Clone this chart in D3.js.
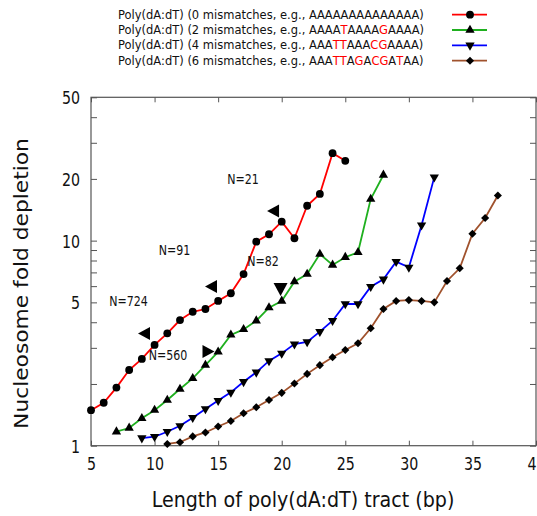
<!DOCTYPE html>
<html>
<head>
<meta charset="utf-8">
<script src="https://cdnjs.cloudflare.com/ajax/libs/d3/7.8.5/d3.min.js"></script>
<style>
  body { margin: 0; background: #fff; }
  svg { display: block; }
  text { font-family: "DejaVu Sans", Verdana, sans-serif; fill: #111; }
</style>
</head>
<body>
<div id="chart"></div>
<script>
// ---- data ----
var len0 = [5,6,7,8,9,10,11,12,13,14,15,16,17,18,19,20,21,22,23,24,25]
var fold0 = [1.49,1.62,1.92,2.34,2.65,3.10,3.53,4.10,4.50,4.64,5.08,5.54,6.87,9.88,10.74,12.37,10.27,14.8,16.9,26.7,24.5]

var len2 = [7,8,9,10,11,12,13,14,15,16,17,18,19,20,21,22,23,24,25,26,27,28]
var fold2 = [1.17,1.22,1.36,1.49,1.67,1.89,2.13,2.47,2.87,3.47,3.69,4.07,4.71,5.08,6.31,6.87,8.60,7.61,8.30,8.77,15.96,20.9]

var len4 = [9,10,11,12,13,14,15,16,17,18,19,20,21,22,23,24,25,26,27,28,29,30,31,32]
var fold4 = [1.09,1.106,1.17,1.25,1.37,1.51,1.66,1.82,2.05,2.28,2.59,2.82,3.13,3.21,3.60,4.07,4.91,4.91,5.96,6.48,7.89,7.41,11.9,20.4]

var len6 = [11,12,13,14,15,16,17,18,19,20,21,22,23,24,25,26,27,28,29,30,31,32,33,34,35,36,37]
var fold6 = [1.02,1.04,1.11,1.16,1.24,1.32,1.44,1.54,1.67,1.81,2.01,2.24,2.47,2.70,2.93,3.16,3.74,4.64,5.08,5.13,5.08,5.0,6.36,7.33,10.8,12.9,16.6]

var mismatches = [0, 2, 4, 6]
var examples = ["AAAAAAAAAAAAAA", "AAAATAAAAGAAAA", "AAATTAAACGAAAA", "AAATTAGACGATAA"]
var colors = ["#ff0000", "#1fb01f", "#0000ff", "#a0522d"]
var markers = ["circle", "up", "down", "diamond"]

var xTicks = [5,10,15,20,25,30,35,40]
var yTicks = [1,2,3,4,5,6,7,8,9,10,20,30,40,50]
var yLabels = [1,5,10,20,50]

// N labels and the arrowheads next to them (data coordinates)
var nLabels = [
  {text: "N=724", x: 7.95, y: 5.08},
  {text: "N=560", x: 11.06, y: 2.77},
  {text: "N=91", x: 11.57, y: 9.0},
  {text: "N=82", x: 18.53, y: 7.96},
  {text: "N=21", x: 16.96, y: 20.0}
]
var arrowHeads = [
  {x: 9.17, y: 3.52, dir: "left"},
  {x: 14.44, y: 5.98, dir: "left"},
  {x: 19.32, y: 13.95, dir: "left"},
  {x: 14.24, y: 2.88, dir: "right"},
  {x: 19.91, y: 5.81, dir: "down"}
]

var series = [
  {len: len0, fold: fold0},
  {len: len2, fold: fold2},
  {len: len4, fold: fold4},
  {len: len6, fold: fold6}
]

// ---- layout ----
var W = 537, H = 516
var SX = 0.79   // the figure's text is horizontally narrow
var plotL = 91, plotR = 536, plotT = 97.3, plotB = 445.7

var svg = d3.select("#chart").append("svg")
  .attr("width", W)
  .attr("height", H)

var x = d3.scaleLinear().domain([5, 40]).range([plotL, plotR])
var y = d3.scaleLog().domain([1, 50]).range([plotB, plotT])

var symbolFor = function(m) {
  if (m === "circle") return d3.symbol().type(d3.symbolCircle).size(48)
  if (m === "diamond") return d3.symbol().type(d3.symbolDiamond2).size(42)
  return d3.symbol().type(d3.symbolTriangle2).size(62)
}
var drawMarker = function(g, m, px, py) {
  var t = "translate(" + px + "," + py + ")"
  if (m === "down") t += " rotate(180)"
  g.append("path")
    .attr("d", symbolFor(m)())
    .attr("fill", "#000")
    .attr("transform", t)
}

// axes (ticks point inwards, mirrored on top/right)
var gx = svg.append("g")
  .attr("transform", "translate(0," + plotB + ")")
  .call(d3.axisBottom(x).tickValues(xTicks).tickSize(-5).tickPadding(9).tickFormat(d3.format("d")))
gx.select(".domain").remove()
gx.selectAll("text")
  .style("font-size", "18px")
  .attr("y", 0).attr("dy", "1.05em")
  .attr("transform", "translate(0,5) scale(" + SX + ",1)")

svg.append("g")
  .attr("transform", "translate(0," + plotT + ")")
  .call(d3.axisTop(x).tickValues(xTicks).tickSize(-5).tickFormat(""))
  .select(".domain").remove()

var gy = svg.append("g")
  .attr("transform", "translate(" + plotL + ",0)")
  .call(d3.axisLeft(y).tickValues(yTicks).tickSize(-6)
    .tickFormat(function(d) { return yLabels.indexOf(d) >= 0 ? d : "" }))
gy.select(".domain").remove()
gy.selectAll("text")
  .style("font-size", "18px")
  .attr("x", -11 / SX)
  .attr("dy", "0.36em")
  .attr("transform", "scale(" + SX + ",1)")

svg.append("g")
  .attr("transform", "translate(" + plotR + ",0)")
  .call(d3.axisRight(y).tickValues(yTicks).tickSize(-6).tickFormat(""))
  .select(".domain").remove()

svg.selectAll(".tick line").attr("stroke", "#555")

svg.append("rect")
  .attr("x", plotL).attr("y", plotT)
  .attr("width", plotR - plotL).attr("height", plotB - plotT)
  .attr("fill", "none")
  .attr("stroke", "#555")
  .attr("stroke-width", 1.2)

// series
var line = d3.line()
  .x(function(d) { return x(d[0]) })
  .y(function(d) { return y(d[1]) })

series.forEach(function(s, i) {
  var pts = s.len.map(function(l, j) { return [l, s.fold[j]] })
  var g = svg.append("g")
  g.append("path")
    .datum(pts)
    .attr("d", line)
    .attr("fill", "none")
    .attr("stroke", colors[i])
    .attr("stroke-width", 1.8)
  pts.forEach(function(p) { drawMarker(g, markers[i], x(p[0]), y(p[1])) })
})

// annotations
var squashText = function(g, px, py, str, size, anchor) {
  return g.append("text")
    .attr("transform", "translate(" + px + "," + py + ") scale(" + SX + ",1)")
    .attr("text-anchor", anchor || "middle")
    .attr("dy", "0.36em")
    .style("font-size", size + "px")
    .text(str)
}
var ann = svg.append("g")
nLabels.forEach(function(d) { squashText(ann, x(d.x), y(d.y), d.text, 14) })

var headPath = {
  left: "M-6,0L6,-6.5L6,6.5Z",
  right: "M6,0L-6,-6.5L-6,6.5Z",
  down: "M0,7L-7,-6L7,-6Z"
}
ann.selectAll(".head")
  .data(arrowHeads)
  .enter()
  .append("path")
  .attr("class", "head")
  .attr("d", function(d) { return headPath[d.dir] })
  .attr("transform", function(d) { return "translate(" + x(d.x) + "," + y(d.y) + ")" })
  .attr("fill", "#000")

// axis titles
var xt = svg.append("text")
  .attr("text-anchor", "middle")
  .style("font-size", "21px")
  .text("Length of poly(dA:dT) tract (bp)")
var xtw = xt.node().getComputedTextLength()
xt.attr("transform", "translate(303,507) scale(" + (303 / xtw) + ",1)")

var yt = svg.append("text")
  .attr("text-anchor", "middle")
  .style("font-size", "20px")
  .text("Nucleosome fold depletion")
var ytw = yt.node().getComputedTextLength()
yt.attr("transform", "translate(28,283.5) rotate(-90) scale(" + (291 / ytw) + ",1)")

// legend
var legend = svg.append("g")
var rowY = [14.7, 30, 45.3, 60.7]
var legendScale = null
mismatches.forEach(function(m, i) {
  var t = legend.append("text")
    .attr("dy", "0.36em")
    .style("font-size", "11.5px")
  t.append("tspan").text("Poly(dA:dT) (" + m + " mismatches, e.g., ")
  examples[i].split("").forEach(function(c) {
    t.append("tspan").style("fill", c === "A" ? "#111" : "#ff0000").text(c)
  })
  t.append("tspan").text(")")
  if (legendScale === null) legendScale = 310 / t.node().getComputedTextLength()
  t.attr("transform", "translate(118," + rowY[i] + ") scale(" + legendScale + ",1)")

  legend.append("line")
    .attr("x1", 452).attr("x2", 487)
    .attr("y1", rowY[i]).attr("y2", rowY[i])
    .attr("stroke", colors[i])
    .attr("stroke-width", 1.8)
  drawMarker(legend, markers[i], 470, rowY[i])
})
</script>
</body>
</html>
